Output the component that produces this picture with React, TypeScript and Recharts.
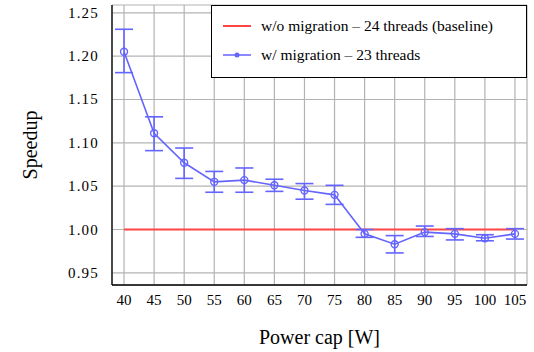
import {
  ComposedChart,
  Line,
  ErrorBar,
  XAxis,
  YAxis,
  CartesianGrid
} from 'recharts'

const powerCaps = [40, 45, 50, 55, 60, 65, 70, 75, 80, 85, 90, 95, 100, 105]
const speedup = [1.205, 1.111, 1.077, 1.055, 1.057, 1.051, 1.045, 1.04, 0.995, 0.983, 0.997, 0.995, 0.99, 0.995]
const errLow = [1.181, 1.091, 1.059, 1.043, 1.043, 1.044, 1.035, 1.029, 0.991, 0.973, 0.992, 0.988, 0.987, 0.989]
const errHigh = [1.231, 1.13, 1.094, 1.067, 1.071, 1.058, 1.053, 1.051, 1.0, 0.993, 1.004, 1.001, 0.994, 1.001]
const baseline = [1, 1, 1, 1, 1, 1, 1, 1, 1, 1, 1, 1, 1, 1]
const yTicks = [0.95, 1.0, 1.05, 1.1, 1.15, 1.2, 1.25]

const RED = '#ff4444'
const BLUE = '#6464ff'
const FONT = "'Liberation Serif', 'Times New Roman', Times, serif"

const data = powerCaps.map((p, i) => ({
  power: p,
  speedup: speedup[i],
  baseline: baseline[i],
  err: [speedup[i] - errLow[i], errHigh[i] - speedup[i]]
}))

function XTick(props: any) {
  const { x, y, payload } = props
  return (
    <text x={x} y={y + 12} textAnchor="middle" fontFamily={FONT} fontSize={15} fill="#000">
      {payload.value}
    </text>
  )
}

function YTick(props: any) {
  const { x, y, payload } = props
  return (
    <text x={x - 1} y={y + 5} textAnchor="end" fontFamily={FONT} fontSize={15} letterSpacing={1.2} fill="#000">
      {Number(payload.value).toFixed(2)}
    </text>
  )
}

function LegendBox() {
  return (
    <div
      style={{
        position: 'absolute',
        left: 211,
        top: 5,
        border: '1px solid #000',
        background: '#fff',
        width: 316,
        height: 73,
        boxSizing: 'border-box',
        fontFamily: FONT,
        fontSize: 15.5,
        color: '#000',
        padding: '5px 0 0 11px'
      }}
    >
      <div style={{ display: 'flex', alignItems: 'center', height: 29 }}>
        <svg width={28} height={10} style={{ marginRight: 10, flexShrink: 0 }}>
          <line x1={0} y1={5} x2={28} y2={5} stroke={RED} strokeWidth={2} />
        </svg>
        <span style={{ whiteSpace: 'nowrap' }}>w/o migration – 24 threads (baseline)</span>
      </div>
      <div style={{ display: 'flex', alignItems: 'center', height: 29 }}>
        <svg width={28} height={10} style={{ marginRight: 10, flexShrink: 0 }}>
          <line x1={0} y1={5} x2={28} y2={5} stroke={BLUE} strokeWidth={1.5} />
          <circle cx={14} cy={5} r={2.5} fill={BLUE} />
        </svg>
        <span style={{ whiteSpace: 'nowrap' }}>w/ migration – 23 threads</span>
      </div>
    </div>
  )
}

export default function App() {
  return (
    <div style={{ position: 'absolute', left: 0, top: 0, width: 534, height: 352, background: '#fff', fontFamily: FONT }}>
      <ComposedChart
        width={534}
        height={352}
        data={data}
        margin={{ top: 5, right: 7, bottom: 0, left: 0 }}
        style={{ fontFamily: FONT }}
      >
        <CartesianGrid stroke="#b3b3b3" strokeWidth={1.2} />
        <XAxis
          dataKey="power"
          type="number"
          domain={[38, 107]}
          ticks={powerCaps}
          interval={0}
          height={67}
          tickLine={false}
          axisLine={{ stroke: '#000', strokeWidth: 1.3 }}
          tick={<XTick />}
          label={{ value: 'Power cap [W]', position: 'insideBottom', offset: 8, fill: '#000', fontSize: 20, style: { fontFamily: FONT } }}
        />
        <YAxis
          type="number"
          domain={[0.936, 1.259]}
          ticks={yTicks}
          width={112}
          tickLine={false}
          tickMargin={6}
          allowDataOverflow
          axisLine={{ stroke: '#000', strokeWidth: 1.3 }}
          tick={<YTick />}
          label={{ value: 'Speedup', angle: -90, position: 'insideLeft', offset: 30, fill: '#000', fontSize: 20, style: { fontFamily: FONT, textAnchor: 'middle' } }}
        />
        <Line
          dataKey="baseline"
          stroke={RED}
          strokeWidth={2.2}
          dot={false}
          isAnimationActive={false}
        />
        <Line
          dataKey="speedup"
          stroke={BLUE}
          strokeWidth={1.6}
          dot={{ r: 3.5, stroke: BLUE, strokeWidth: 1.4, fill: 'none' }}
          isAnimationActive={false}
        >
          <ErrorBar dataKey="err" stroke={BLUE} strokeWidth={1.6} width={9} direction="y" />
        </Line>
      </ComposedChart>
      <LegendBox />
    </div>
  )
}
